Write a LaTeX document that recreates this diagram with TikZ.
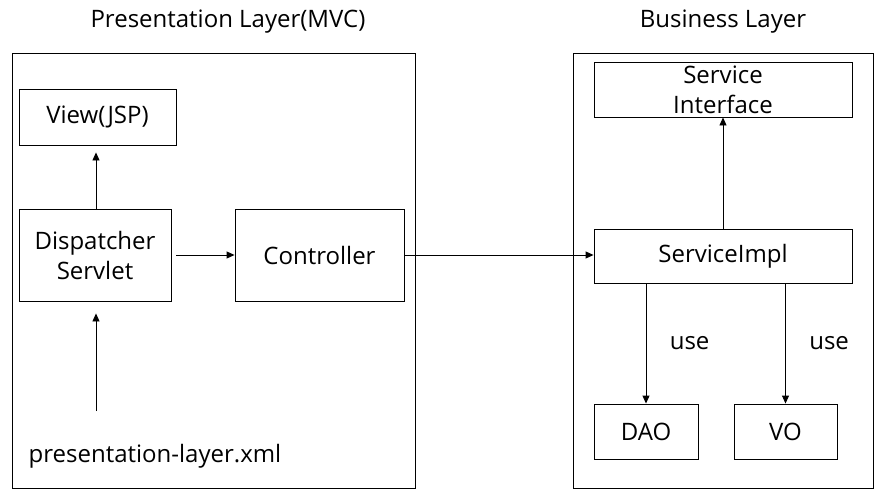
\documentclass[tikz,border=0pt]{standalone}
\usepackage{fontspec}
\setmainfont{Open Sans}
\usetikzlibrary{positioning,arrows.meta}

\begin{document}
\begin{tikzpicture}[x=1pt, y=-1pt, font=\fontsize{24}{30}\selectfont, line width=0.9pt]

\tikzstyle{layerbox} = [draw, black, inner sep=0, anchor=north west]
\tikzstyle{compbox} = [draw, black, inner sep=2pt, align=center]
\tikzstyle{titletext} = [inner sep=0]
\tikzstyle{flow} = [-{Triangle[length=8pt,width=7pt]}]

\useasboundingbox (0,0) rectangle (885,498);

% the two layers
\node[layerbox, minimum width=403pt, minimum height=435pt] (pres) at (12,53) {};
\node[layerbox, minimum width=300pt, minimum height=435pt] (biz) at (573,53) {};
\node[titletext] (prestitle) at (228,22) {Presentation Layer(MVC)};
\node[titletext] (biztitle) at (723,22) {Business Layer};

% presentation layer
\node[compbox, minimum width=157pt, minimum height=56pt] (view) at (97.5,117) {View(JSP)};
\node[compbox, minimum width=152pt, minimum height=92pt] (disp) at (95,255) {Dispatcher\\Servlet};
\node[compbox, minimum width=169pt, minimum height=92pt] (ctrl) at (319.5,255) {Controller};
\node[titletext] (xml) at (155,456) {presentation-layer.xml};
\coordinate (xmlin) at (96,411);

% business layer
\node[compbox, minimum width=258pt, minimum height=55pt] (iface) at (723,89.5) {Service\\Interface};
\node[compbox, minimum width=258pt, minimum height=54pt] (impl) at (723,256) {ServiceImpl};
\node[compbox, minimum width=104pt, minimum height=55pt] (dao) at (646,431.5) {DAO};
\node[compbox, minimum width=103pt, minimum height=55pt] (vo) at (785.5,431.5) {VO};

% connectors
\draw[flow, shorten >=7pt] (xmlin |- disp.north) -- (xmlin |- view.south);
\draw[flow, shorten <=5pt] (disp.east) -- (ctrl.west);
\draw[flow, shorten >=12pt] (xmlin) -- (xmlin |- disp.south);
\draw[flow] (ctrl.east) -- (ctrl.east -| impl.west);
\draw[flow] (impl.north) -- (iface.south);
\draw[flow] (dao.north |- impl.south) -- node[right=20pt] (use1) {use} (dao.north);
\draw[flow] (vo.north |- impl.south) -- node[right=20pt] (use2) {use} (vo.north);

\end{tikzpicture}
\end{document}
